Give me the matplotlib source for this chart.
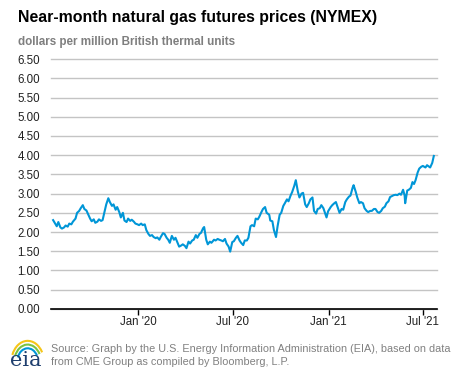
import pandas as pd
import matplotlib.pyplot as plt
import matplotlib.patches as patches

# Near-month NYMEX natural gas futures, $/MMBtu
dates = [
    "2019-07-22", "2019-07-25", "2019-07-29", "2019-08-01", "2019-08-05", "2019-08-08",
    "2019-08-12", "2019-08-15", "2019-08-19", "2019-08-22", "2019-08-26", "2019-08-29",
    "2019-09-03", "2019-09-06", "2019-09-10", "2019-09-13", "2019-09-17", "2019-09-20",
    "2019-09-24", "2019-09-27", "2019-10-01", "2019-10-04", "2019-10-08", "2019-10-11",
    "2019-10-15", "2019-10-18", "2019-10-22", "2019-10-25", "2019-10-29", "2019-11-01",
    "2019-11-05", "2019-11-08", "2019-11-12", "2019-11-15", "2019-11-19", "2019-11-22",
    "2019-11-26", "2019-11-29", "2019-12-03", "2019-12-06", "2019-12-10", "2019-12-13",
    "2019-12-17", "2019-12-20", "2019-12-24", "2019-12-27", "2019-12-31",
    "2020-01-03", "2020-01-07", "2020-01-10", "2020-01-14", "2020-01-17", "2020-01-21",
    "2020-01-24", "2020-01-28", "2020-01-31", "2020-02-04", "2020-02-07", "2020-02-11",
    "2020-02-14", "2020-02-18", "2020-02-21", "2020-02-25", "2020-02-28", "2020-03-02",
    "2020-03-06", "2020-03-10", "2020-03-13", "2020-03-17", "2020-03-20", "2020-03-24",
    "2020-03-27", "2020-03-31", "2020-04-03", "2020-04-07", "2020-04-10", "2020-04-14",
    "2020-04-17", "2020-04-21", "2020-04-24", "2020-04-28", "2020-05-01", "2020-05-05",
    "2020-05-07", "2020-05-11", "2020-05-14", "2020-05-18", "2020-05-21", "2020-05-26",
    "2020-05-29", "2020-06-02", "2020-06-05", "2020-06-09", "2020-06-12", "2020-06-16",
    "2020-06-19", "2020-06-23", "2020-06-26", "2020-06-30", "2020-07-03", "2020-07-07",
    "2020-07-10", "2020-07-14", "2020-07-17", "2020-07-21", "2020-07-24", "2020-07-28",
    "2020-07-31", "2020-08-04", "2020-08-07", "2020-08-11", "2020-08-14", "2020-08-18",
    "2020-08-21", "2020-08-25", "2020-08-28", "2020-09-01", "2020-09-04", "2020-09-09",
    "2020-09-11", "2020-09-15", "2020-09-18", "2020-09-22", "2020-09-25", "2020-09-29",
    "2020-10-02", "2020-10-06", "2020-10-09", "2020-10-13", "2020-10-16", "2020-10-20",
    "2020-10-23", "2020-10-27", "2020-10-30", "2020-11-03", "2020-11-06", "2020-11-10",
    "2020-11-13", "2020-11-17", "2020-11-20", "2020-11-24", "2020-11-27", "2020-12-01",
    "2020-12-04", "2020-12-08", "2020-12-11", "2020-12-15", "2020-12-18", "2020-12-22",
    "2020-12-28", "2020-12-31",
    "2021-01-05", "2021-01-08", "2021-01-12", "2021-01-15", "2021-01-19", "2021-01-22",
    "2021-01-26", "2021-01-29", "2021-02-02", "2021-02-05", "2021-02-09", "2021-02-12",
    "2021-02-16", "2021-02-18", "2021-02-22", "2021-02-25", "2021-03-01", "2021-03-04",
    "2021-03-08", "2021-03-11", "2021-03-15", "2021-03-18", "2021-03-22", "2021-03-25",
    "2021-03-29", "2021-04-01", "2021-04-05", "2021-04-08", "2021-04-12", "2021-04-15",
    "2021-04-19", "2021-04-22", "2021-04-26", "2021-04-29", "2021-05-03", "2021-05-06",
    "2021-05-10", "2021-05-13", "2021-05-17", "2021-05-20", "2021-05-24", "2021-05-27",
    "2021-05-28", "2021-06-01", "2021-06-04", "2021-06-08", "2021-06-11", "2021-06-14",
    "2021-06-17", "2021-06-21", "2021-06-24", "2021-06-28", "2021-07-01", "2021-07-06",
    "2021-07-09", "2021-07-13", "2021-07-15", "2021-07-19", "2021-07-22",
]
prices = [
    2.31, 2.24, 2.15, 2.26, 2.12, 2.09,
    2.12, 2.17, 2.14, 2.22, 2.20, 2.27,
    2.35, 2.50, 2.55, 2.62, 2.70, 2.60,
    2.56, 2.47, 2.35, 2.28, 2.33, 2.24,
    2.27, 2.33, 2.29, 2.31, 2.55, 2.72,
    2.88, 2.78, 2.68, 2.72, 2.58, 2.65,
    2.52, 2.38, 2.50, 2.30, 2.26, 2.35,
    2.29, 2.32, 2.27, 2.22, 2.20,
    2.18, 2.22, 2.18, 2.20, 2.05, 1.95,
    1.90, 1.92, 1.87, 1.84, 1.86, 1.80,
    1.88, 1.97, 1.95, 1.85, 1.80, 1.72,
    1.90, 1.80, 1.85, 1.72, 1.62, 1.65,
    1.68, 1.64, 1.58, 1.75, 1.70, 1.78,
    1.80, 1.92, 1.85, 1.95, 1.98, 2.10,
    2.13, 1.80, 1.68, 1.75, 1.72, 1.80,
    1.78, 1.82, 1.80, 1.78, 1.76, 1.82,
    1.70, 1.62, 1.49, 1.74, 1.76, 1.85,
    1.90, 1.78, 1.72, 1.66, 1.78, 1.78,
    1.85, 2.15, 2.18, 2.15, 2.35, 2.33,
    2.40, 2.52, 2.60, 2.65, 2.50, 2.45,
    2.30, 2.28, 2.05, 1.87, 2.15, 2.45,
    2.50, 2.68, 2.75, 2.85, 2.80, 2.95,
    3.04, 3.20, 3.35, 3.05, 2.90, 3.00,
    3.02, 2.72, 2.65, 2.75, 2.85, 2.90,
    2.55, 2.48, 2.60, 2.62, 2.70, 2.62,
    2.38, 2.54,
    2.65, 2.70, 2.75, 2.78, 2.62, 2.50,
    2.60, 2.58, 2.78, 2.85, 2.92, 2.95,
    3.15, 3.22, 3.05, 2.90, 2.75, 2.78,
    2.75, 2.62, 2.55, 2.52, 2.55, 2.55,
    2.60, 2.60, 2.52, 2.50, 2.55, 2.62,
    2.66, 2.75, 2.80, 2.91, 2.94, 2.96,
    2.97, 2.96, 3.00, 2.97, 3.10, 2.95,
    2.75, 3.08, 3.10, 3.15, 3.30, 3.25,
    3.35, 3.55, 3.65, 3.70, 3.72, 3.68,
    3.74, 3.70, 3.68, 3.80, 3.98,
]

tick_dates = ["2020-01-01", "2020-07-01", "2021-01-01", "2021-07-01"]
tick_labels = ["Jan '20", "Jul '20", "Jan '21", "Jul '21"]
y_ticks = [0.0, 0.5, 1.0, 1.5, 2.0, 2.5, 3.0, 3.5, 4.0, 4.5, 5.0, 5.5, 6.0, 6.5]

plt.rcParams["font.family"] = ["Liberation Sans", "DejaVu Sans"]

df = pd.DataFrame({"price": prices}, index=pd.to_datetime(dates))

fig = plt.figure(figsize=(4.77, 3.79), dpi=100)
ax = fig.add_axes([0.107, 0.185, 0.809, 0.659])

ax.plot(df.index, df["price"], color="#0096d7", linewidth=1.5)

ax.set_ylim(0, 6.5)
ax.set_xlim(pd.Timestamp("2019-07-18"), pd.Timestamp("2021-07-28"))
ax.set_yticks(y_ticks)
ax.set_yticklabels([f"{v:.2f}" for v in y_ticks])
ax.set_xticks(pd.to_datetime(tick_dates))
ax.set_xticklabels(tick_labels)

ax.grid(axis="y", color="#c4c4c4", linewidth=1.0, clip_on=False)
ax.set_axisbelow(True)
for side in ["left", "right", "top"]:
    ax.spines[side].set_visible(False)
ax.spines["bottom"].set_linewidth(1.2)
ax.spines["bottom"].set_color("#000000")

ax.tick_params(axis="y", length=0, pad=8, labelsize=8.3, labelcolor="#222222")
ax.tick_params(axis="x", length=4, width=1, direction="out", labelsize=8.3,
               labelcolor="#222222", pad=1)

fig.text(0.038, 0.955, "Near-month natural gas futures prices (NYMEX)",
         fontsize=11.4, fontweight="bold", color="#000000", va="center")
fig.text(0.038, 0.889, "dollars per million British thermal units",
         fontsize=8.4, fontweight="bold", color="#7f7f7f", va="center")

fig.text(0.107, 0.062,
         "Source: Graph by the U.S. Energy Information Administration (EIA), based on data\n"
         "from CME Group as compiled by Bloomberg, L.P.",
         fontsize=7.8, color="#808080", va="center", linespacing=1.45)

# eia logo
fig.text(0.055, 0.050, "eia", fontsize=15, family="DejaVu Serif", color="#1f3f6e",
         ha="center", va="center")
for r, c in [(0.034, "#f5c518"), (0.028, "#7cc242"), (0.022, "#0096d7")]:
    fig.add_artist(patches.Arc((0.058, 0.045), r * 2, r * 2 * 477 / 379 * 1.3,
                               theta1=40, theta2=150, color=c, linewidth=1.5,
                               transform=fig.transFigure))

fig.savefig("out.png", dpi=100)
